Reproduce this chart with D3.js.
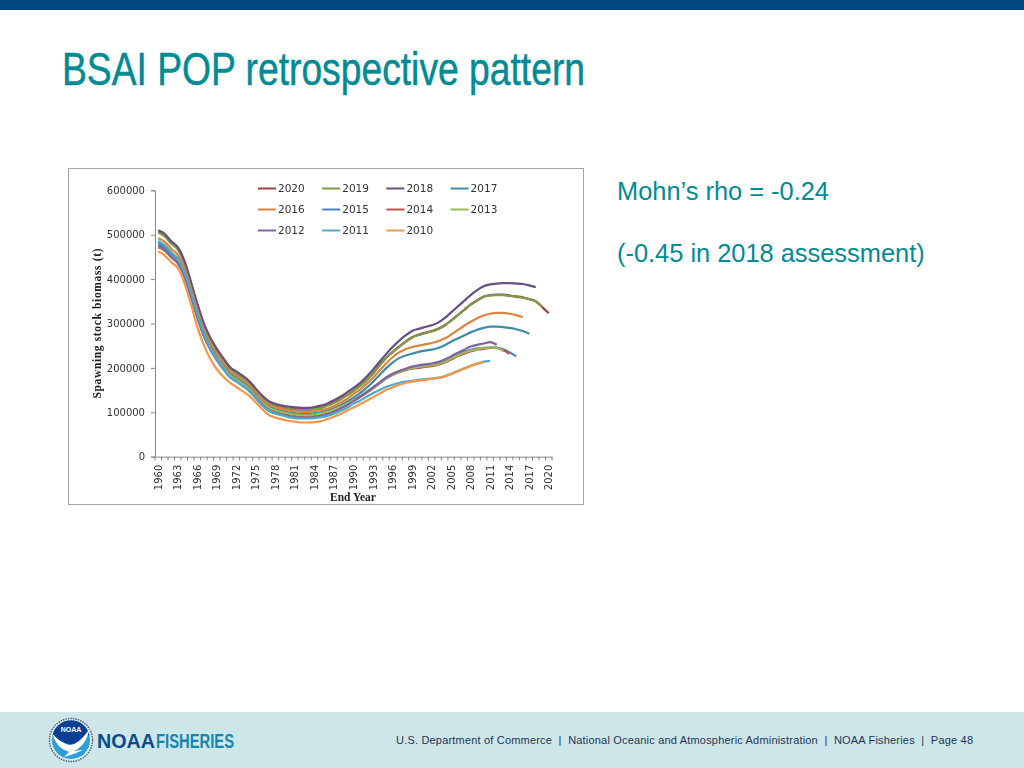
<!DOCTYPE html>
<html><head><meta charset="utf-8">
<script src="https://cdn.jsdelivr.net/npm/d3@7"></script>
<style>html,body{margin:0;padding:0;background:#fff;overflow:hidden}svg{display:block}</style>
</head><body><svg id="c" width="1024" height="768"></svg>
<script>
const title = "BSAI POP retrospective pattern";
const notes = ["Mohn\u2019s rho = -0.24", "(-0.45 in 2018 assessment)"];
const footer = "U.S. Department of Commerce  |  National Oceanic and Atmospheric Administration  |  NOAA Fisheries  |  Page 48";
const yTicks = [0,100000,200000,300000,400000,500000,600000];
const yLabel = "Spawning stock biomass (t)";
const xLabel = "End Year";
const firstYear = 1960, lastYear = 2020;
const years = d3.range(firstYear, lastYear + 1);
const xTickYears = years.filter(y => (y - firstYear) % 3 === 0);
const seriesNames = [2020,2019,2018,2017,2016,2015,2014,2013,2012,2011,2010];
const seriesColors = ["#A5403D","#7F9A48","#664F83","#3B8EA5","#DB843D","#4F81BD","#C0504D","#9BBB59","#8064A2","#4BACC6","#F79646"];
// values in thousand tonnes, from 1960 to the end year of each retrospective peel
const v2020 = [506,497,481,468,438,391,341,297,265,240,219,199,189,179,167,150,134,122,116,111,109,107,106,106,108,111,116,122,130,139,149,160,173,188,206,223,236,248,259,269,275,279,283,288,296,307,319,331,343,352,361,364,365,365,363,361,359,355,350,337,323];
const v2019 = [505,496,480,467,437,390,340,296,264,239,218,198,188,178,166,149,133,121,115,110,108,106,105,105,107,110,115,121,129,138,148,159,172,187,205,222,235,247,258,268,274,278,282,287,295,306,318,330,342,351,360,363,364,364,362,360,358,355,350,337];
const v2018 = [510,502,485,472,442,395,345,300,268,243,222,202,192,182,170,153,137,125,119,115,113,111,110,110,112,115,120,127,135,145,155,166,180,196,214,231,247,261,273,283,288,292,296,302,312,325,338,351,364,375,384,388,390,391,391,390,389,386,382];
const v2017 = [482,474,459,446,418,373,325,282,251,227,207,188,178,168,156,141,125,113,107,103,100,98,96,96,98,100,104,109,116,124,133,143,155,169,184,199,212,222,228,232,236,239,241,245,251,259,266,273,280,286,290,293,293,292,290,287,283,277];
const v2016 = [492,484,468,455,426,380,331,288,257,232,212,193,183,173,161,145,129,117,111,107,104,102,101,101,103,105,108,114,122,130,141,151,164,178,194,210,224,235,242,247,250,253,256,260,266,275,285,295,304,312,318,322,324,324,322,319,314];
const v2015 = [478,470,455,442,414,369,321,279,248,224,204,186,176,166,154,139,123,111,105,101,98,96,94,94,96,98,102,107,114,121,128,136,146,156,167,178,186,192,197,201,204,206,208,211,216,223,231,237,241,244,245,246,246,242,235,226];
const v2014 = [472,464,449,436,409,364,316,275,244,220,201,183,173,163,151,136,121,109,103,99,96,94,92,92,94,96,100,105,112,119,126,134,144,154,165,176,184,190,195,198,200,202,204,207,212,219,226,232,237,241,243,245,245,240,232];
const v2013 = [474,466,451,438,411,366,318,277,246,222,202,184,174,164,152,137,122,110,104,100,97,95,93,93,95,97,101,106,113,120,127,135,145,155,166,177,185,191,196,199,202,204,206,209,214,221,228,234,239,242,245,246,245,238];
const v2012 = [475,466,450,436,406,361,313,271,241,217,197,179,169,159,148,133,117,105,99,95,92,89,88,88,90,92,96,101,108,116,125,135,145,156,167,178,187,193,198,203,206,208,210,213,219,226,234,241,248,252,255,258,252];
const v2011 = [486,476,460,446,416,371,321,279,245,220,199,180,170,160,147,131,115,103,97,93,89,87,86,86,87,89,92,97,103,110,119,126,135,143,150,157,162,166,169,171,173,175,176,178,181,187,193,199,205,210,214,216];
const v2010 = [462,453,438,425,392,345,292,252,220,197,180,167,157,147,137,122,107,94,88,84,81,79,77,77,78,80,85,90,96,104,111,118,126,134,142,150,156,162,166,169,171,173,175,177,180,186,192,198,204,209,213];
const seriesValues = [v2020,v2019,v2018,v2017,v2016,v2015,v2014,v2013,v2012,v2011,v2010];

const teal = "#008b96";
const svg = d3.select("#c");
const sans = "'Liberation Sans', Arial, sans-serif";
const chartFont = "'DejaVu Sans', sans-serif";
const serif = "'Liberation Serif', serif";

// slide frame
svg.append("rect").attr("width",1024).attr("height",10).attr("fill","#00467f");
svg.append("rect").attr("y",712).attr("width",1024).attr("height",56).attr("fill","#cde6ea");
svg.append("text").attr("x",62).attr("y",85).attr("textLength",523).attr("lengthAdjust","spacingAndGlyphs")
  .attr("font-family",sans).attr("font-size",46).attr("fill",teal).attr("stroke",teal).attr("stroke-width",0.5).text(title);
notes.forEach((t,i)=>svg.append("text").attr("x",617).attr("y",[200,262][i]).attr("font-family",sans)
  .attr("font-size",25.4).attr("fill",teal).text(t));
svg.append("text").attr("x",396).attr("y",744).attr("font-family",sans).attr("font-size",11)
  .attr("textLength",577).attr("xml:space","preserve").style("white-space","pre").attr("fill","#1d3557").text(footer);

// chart picture frame
svg.append("rect").attr("x",68.5).attr("y",168.5).attr("width",515).attr("height",336)
  .attr("fill","#fff").attr("stroke","#a6a6a6");

const chart = svg.append("g").style("filter","blur(0.35px)");
const x = d3.scaleBand().domain(years).range([155,552]);
const y = d3.scaleLinear().domain([0,600000]).range([456.7,190.3]);
const line = d3.line().x((d,i)=>x(firstYear+i)+x.bandwidth()/2).y(d=>y(d*1000)).curve(d3.curveMonotoneX);

const yAxis = chart.append("g").attr("transform","translate(155,0)")
  .call(d3.axisLeft(y).tickValues(yTicks).tickSize(4).tickPadding(6).tickFormat(d3.format("d")));
const xAxis = chart.append("g").attr("transform","translate(0,456.7)")
  .call(d3.axisBottom(x).tickValues(xTickYears).tickSize(0).tickPadding(8));
xAxis.selectAll("text").attr("transform","rotate(-90)").attr("text-anchor","end")
  .attr("x",-8).attr("y",0).attr("dy","0.35em");
chart.append("g").selectAll("line").data(d3.range(0,years.length+1)).join("line")
  .attr("x1",i=>155+i*x.step()).attr("x2",i=>155+i*x.step()).attr("y1",456.7).attr("y2",460.5)
  .attr("stroke","#868686");
[yAxis,xAxis].forEach(g=>{
  g.selectAll(".domain,.tick line").attr("stroke","#868686");
  g.selectAll("text").attr("font-family",chartFont).attr("font-size",10).attr("fill","#333");
});

chart.append("g").selectAll("path").data(seriesValues).join("path")
  .attr("d",line).attr("fill","none").attr("stroke-width",2.2).attr("stroke-linejoin","round")
  .attr("stroke",(d,i)=>seriesColors[i]);

chart.append("text").attr("transform","translate(101,323.5) rotate(-90)").attr("text-anchor","middle")
  .attr("font-family",serif).attr("font-weight","bold").attr("font-size",11.5).attr("fill","#222")
  .attr("textLength",150).text(yLabel);
chart.append("text").attr("x",353).attr("y",501).attr("text-anchor","middle")
  .attr("font-family",serif).attr("font-weight","bold").attr("font-size",11.5).attr("fill","#222").text(xLabel);

// legend
const legend = chart.append("g").selectAll("g").data(seriesNames).join("g")
  .attr("transform",(d,i)=>`translate(${258+(i%4)*64.2},${188.5+Math.floor(i/4)*21})`);
legend.append("line").attr("x2",18).attr("stroke-width",2).attr("stroke",(d,i)=>seriesColors[i]);
legend.append("text").attr("x",20).attr("dy","0.35em").attr("font-family",chartFont).attr("font-size",10.5)
  .attr("fill","#333").text(d=>d);

// agency logo
const logo = svg.append("g").attr("transform","translate(71,740)");
logo.append("circle").attr("r",21.5).attr("fill","#dfecef").attr("stroke","#4a6478").attr("stroke-width",1.5).attr("stroke-dasharray","1.5 1");
logo.append("circle").attr("r",19).attr("fill","#2a9fd8");
logo.append("path").attr("d","M-18.5,-5 A19,19 0 0 1 18.5,-5 L14,-3 Q6,6 -2,4 Q-12,2 -18.5,-5 Z").attr("fill","#0b3f94");
logo.append("path").attr("d","M-18.5,-6 Q-10,3 -2,5 Q8,5 19,-12 Q14,8 2,11 L12,10 Q2,15 -7,17 L-2,12 Q-15,8 -18.5,-6 Z").attr("fill","#fff");
logo.append("text").attr("x",0).attr("y",-8).attr("text-anchor","middle").attr("font-family",sans)
  .attr("font-weight","bold").attr("font-size",7).attr("fill","#fff").text("NOAA");
svg.append("text").attr("x",97).attr("y",748).attr("textLength",58).attr("lengthAdjust","spacingAndGlyphs")
  .attr("font-family",sans).attr("font-weight","bold").attr("font-size",21).attr("fill","#0b4a8f").text("NOAA");
svg.append("text").attr("x",156).attr("y",748).attr("textLength",78).attr("lengthAdjust","spacingAndGlyphs")
  .attr("font-family",sans).attr("font-weight","bold").attr("font-size",21).attr("fill","#1786ae").text("FISHERIES");
</script></body></html>
